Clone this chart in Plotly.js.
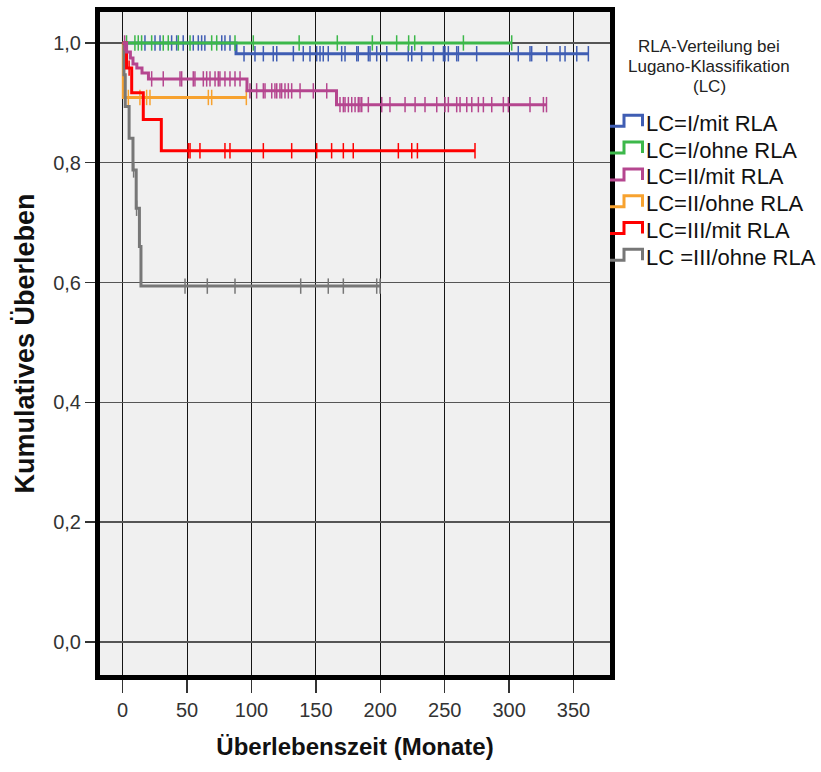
<!DOCTYPE html>
<html>
<head>
<meta charset="utf-8">
<script src="https://cdn.plot.ly/plotly-3.0.1.min.js"></script>
<style>
  html, body { margin: 0; padding: 0; background: #fff; }
  #chart { width: 821px; height: 772px; }
</style>
</head>
<body>
<div id="chart"></div>
<script>
// Kaplan-Meier survival by RLA status within Lugano classification (LC)

// Group labels
const groupNames = ['LC=I/mit RLA', 'LC=I/ohne RLA', 'LC=II/mit RLA', 'LC=II/ohne RLA', 'LC=III/mit RLA', 'LC =III/ohne RLA'];

// Step functions: time (months) of each step and survival after it
const lc1MitTimes = [0, 88, 361.5];
const lc1MitSurv  = [1, 0.982, 0.982];
const lc1MitCensored = [17.3, 25.1, 29, 38, 41.9, 47, 54.8, 58.7, 61.3, 63.8, 76.9, 79.4, 83.3, 94.2, 102.7, 109.2, 116.9, 119.6, 132.5, 140.2, 145.4, 150.6, 153.2, 155.7, 159.6, 170, 172.6, 181.7, 182.9, 190.7, 192, 197.2, 205, 221.7, 224.4, 232.1, 241.2, 249, 250.2, 252.8, 259.3, 260.6, 274.8, 307.1, 316.2, 317.5, 329.2, 339.5, 343.4, 352.5, 361.5];

const lc1OhneTimes = [0, 302];
const lc1OhneSurv  = [1, 1];
const lc1OhneCensored = [3, 9.5, 12.1, 14.7, 22.5, 31.5, 35.4, 43.2, 52.3, 69.1, 73, 87.2, 101.4, 137, 166.6, 193.8, 212.7, 222, 226.7, 264.5, 302];

const lc2MitTimes = [0, 3, 6, 8, 11, 15, 20, 96.5, 166, 329];
const lc2MitSurv  = [1, 0.985, 0.975, 0.965, 0.958, 0.95, 0.94, 0.92, 0.897, 0.897];
const lc2MitCensored = [1.5, 22.5, 31.5, 44.5, 45.8, 54.8, 56.1, 62.6, 65.2, 67.8, 71.7, 74.2, 75.5, 79.4, 83.3, 87.2, 91.1, 98.8, 104, 109.2, 110.5, 115.7, 118.2, 119.6, 122.1, 123.4, 126, 128.6, 131.2, 137.7, 148, 158.4, 168.7, 171.3, 172.6, 175.2, 177.8, 180.4, 182.9, 184.2, 185.6, 190.7, 201.1, 207.5, 219.2, 227, 234.7, 243.8, 250.2, 252.8, 259.3, 261.9, 267.1, 271, 276.1, 280, 286.5, 295.5, 299.4, 316.2, 326.6, 329];

const lc2OhneTimes = [0, 0.5, 96];
const lc2OhneSurv  = [1, 0.909, 0.909];
const lc2OhneCensored = [4.4, 13.4, 18.6, 21.2, 66.5, 69.1, 96];

const lc3MitTimes = [0, 3, 7, 16, 30, 273.5];
const lc3MitSurv  = [1, 0.958, 0.917, 0.872, 0.82, 0.82];
const lc3MitCensored = [5, 51, 52.3, 60, 79.4, 83.3, 109.2, 131.2, 150.6, 162.2, 171.3, 179, 214, 224.4, 228.8, 273.5];

const lc3OhneTimes = [0, 1, 2, 5, 8, 10.5, 13, 14.2, 199.8];
const lc3OhneSurv  = [1, 0.947, 0.894, 0.841, 0.788, 0.724, 0.66, 0.594, 0.594];
const lc3OhneCensored = [8.5, 10.8, 48.4, 65.7, 87.2, 138.2, 159.6, 171.3, 197.2, 199.8];

// Axis ticks
const xTicks = [0, 50, 100, 150, 200, 250, 300, 350];
const yTicks = [0, 0.2, 0.4, 0.6, 0.8, 1.0];
const yTickText = ['0,0', '0,2', '0,4', '0,6', '0,8', '1,0'];

const groupColors = ['#3f5db3', '#3cb84a', '#b5468f', '#f7a22f', '#ff0000', '#777777'];

const groups = [
  {times: lc1MitTimes,  surv: lc1MitSurv,  cens: lc1MitCensored},
  {times: lc1OhneTimes, surv: lc1OhneSurv, cens: lc1OhneCensored},
  {times: lc2MitTimes,  surv: lc2MitSurv,  cens: lc2MitCensored},
  {times: lc2OhneTimes, surv: lc2OhneSurv, cens: lc2OhneCensored},
  {times: lc3MitTimes,  surv: lc3MitSurv,  cens: lc3MitCensored},
  {times: lc3OhneTimes, surv: lc3OhneSurv, cens: lc3OhneCensored}
];

// survival value of a step function at time t
function survAt(times, surv, t) {
  let s = surv[0];
  for (let i = 0; i < times.length; i++) {
    if (times[i] <= t) s = surv[i];
  }
  return s;
}

const drawOrder = [0, 1, 3, 5, 4, 2];
const traces = [];
drawOrder.forEach(function (g) {
  const d = groups[g];
  traces.push({
    type: 'scatter', mode: 'lines', name: groupNames[g],
    x: d.times, y: d.surv,
    line: {shape: 'hv', color: groupColors[g], width: 3},
    showlegend: false, hoverinfo: 'x+y+name'
  });
  traces.push({
    type: 'scatter', mode: 'markers', name: groupNames[g] + ' (zensiert)',
    x: d.cens, y: d.cens.map(function (t) { return survAt(d.times, d.surv, t); }),
    marker: {symbol: 'line-ns', size: 11, line: {width: 1.5, color: groupColors[g]}},
    showlegend: false, hoverinfo: 'x+y+name'
  });
});

// page geometry
const W = 821, H = 772;
const margin = {l: 100, r: 211, t: 12, b: 97};
const plotW = W - margin.l - margin.r;
const plotH = H - margin.t - margin.b;
function paperX(px) { return (px - margin.l) / plotW; }
function paperY(py) { return (H - margin.b - py) / plotH; }

const font = 'Liberation Sans, Arial, Helvetica, sans-serif';

// legend block to the right of the plot
const annotations = [];
const shapes = [];
const titleLines = ['RLA-Verteilung bei', 'Lugano-Klassifikation', '(LC)'];
titleLines.forEach(function (txt, i) {
  annotations.push({
    xref: 'paper', yref: 'paper', x: paperX(709), y: paperY(46.7 + i * 20),
    xanchor: 'center', yanchor: 'middle', showarrow: false,
    text: txt, font: {family: font, size: 17, color: '#222'}
  });
});
groupNames.forEach(function (name, i) {
  const cy = 123.3 + i * 26.8;
  const top = cy - 8, low = cy + 3;
  const x0 = paperX(610), x1 = paperX(624), x2 = paperX(642.5);
  const yt = paperY(top), yl = paperY(low);
  shapes.push({
    type: 'path', xref: 'paper', yref: 'paper',
    path: 'M' + x0 + ',' + yl + ' L' + x1 + ',' + yl + ' L' + x1 + ',' + yt +
          ' L' + x2 + ',' + yt + ' L' + x2 + ',' + yl,
    line: {color: groupColors[i], width: 3}
  });
  annotations.push({
    xref: 'paper', yref: 'paper', x: paperX(644), y: paperY(cy),
    xanchor: 'left', yanchor: 'middle', showarrow: false,
    text: name, font: {family: font, size: 22, color: '#111'}
  });
});

const layout = {
  width: W, height: H,
  margin: margin,
  paper_bgcolor: '#ffffff',
  plot_bgcolor: '#f0f0f0',
  showlegend: false,
  font: {family: font, color: '#333'},
  xaxis: {
    range: [-17.6, 378.3],
    tickvals: xTicks,
    ticks: 'outside', ticklen: 13, tickwidth: 1.5, tickcolor: '#333',
    tickfont: {family: font, size: 20, color: '#333'},
    showgrid: true, gridcolor: '#151515', gridwidth: 1,
    zeroline: false,
    showline: true, mirror: true, linewidth: 5, linecolor: '#000',
    title: {text: 'Überlebenszeit (Monate)', standoff: 20,
            font: {family: font, size: 24, weight: 'bold', color: '#111'}}
  },
  yaxis: {
    range: [-0.0554, 1.0517],
    tickvals: yTicks, ticktext: yTickText,
    ticks: 'outside', ticklen: 10, tickwidth: 1.5, tickcolor: '#333',
    tickfont: {family: font, size: 20, color: '#333'},
    showgrid: true, gridcolor: '#555555', gridwidth: 1.5,
    zeroline: false,
    showline: true, mirror: true, linewidth: 5, linecolor: '#000',
    title: {text: 'Kumulatives Überleben', standoff: 12,
            font: {family: font, size: 27, weight: 'bold', color: '#111'}}
  },
  annotations: annotations,
  shapes: shapes
};

Plotly.newPlot('chart', traces, layout, {displayModeBar: false, staticPlot: true});
</script>
</body>
</html>
